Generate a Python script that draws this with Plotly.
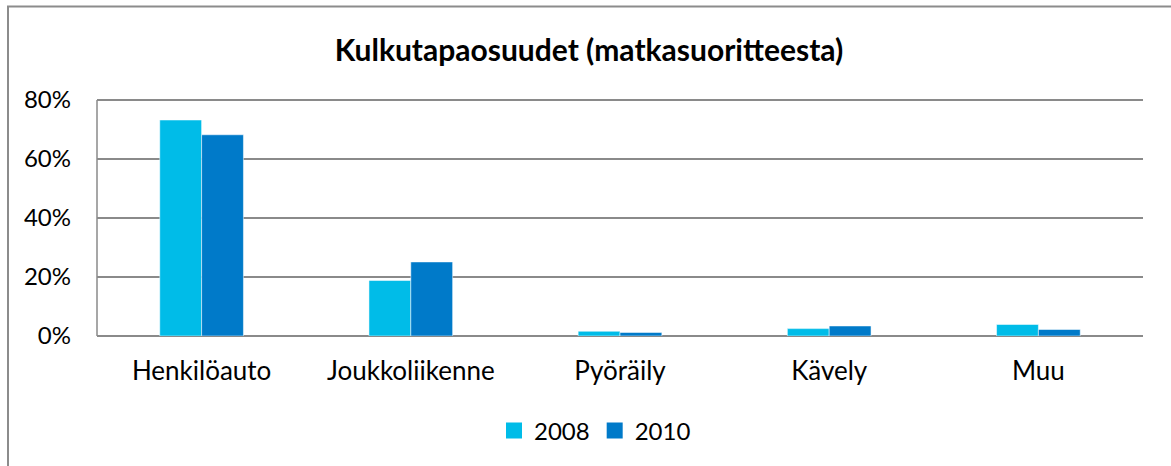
import plotly.graph_objects as go

categories = ["Henkilöauto", "Joukkoliikenne", "Pyöräily", "Kävely", "Muu"]
series_names = ["2008", "2010"]
values_2008 = [0.732, 0.188, 0.016, 0.025, 0.039]
values_2010 = [0.682, 0.251, 0.012, 0.034, 0.022]
y_ticks = [0, 0.2, 0.4, 0.6, 0.8]
y_tick_labels = ["0%", "20%", "40%", "60%", "80%"]

colors = ["#00BCE8", "#007AC9"]
FONT = "Lato"

fig = go.Figure()
for name, vals, col in zip(series_names, [values_2008, values_2010], colors):
    fig.add_trace(go.Bar(
        x=categories, y=vals, name=name, showlegend=False,
        marker=dict(color=col, line=dict(color="rgba(255,255,255,0.5)", width=1)),
    ))
# legend proxies with larger square swatches
for name, col in zip(series_names, colors):
    fig.add_trace(go.Scatter(
        x=[None], y=[None], name=name, mode="markers",
        marker=dict(symbol="square", size=16, color=col),
    ))

W, H = 1171, 466
L, R, T, B = 97, 28, 97, 130
pw, ph = W - L - R, H - T - B

def px_to_paper_x(px):
    return (px - L) / pw

def px_to_paper_y(py):
    return (H - B - py) / ph

fig.update_layout(
    width=W, height=H,
    margin=dict(l=L, r=R, t=T, b=B, autoexpand=False),
    paper_bgcolor="white", plot_bgcolor="white",
    barmode="group", bargap=0.6, bargroupgap=0,
    font=dict(family=FONT, size=24, color="#000000"),
    title=dict(text="<b>Kulkutapaosuudet (matkasuoritteesta)</b>",
               x=px_to_paper_x(589), xref="paper", xanchor="center",
               y=1 - 50 / H, yanchor="middle",
               font=dict(family=FONT, size=30, color="#000000")),
    showlegend=True,
    legend=dict(orientation="h", x=px_to_paper_x(595), xanchor="center",
                y=px_to_paper_y(431), yanchor="middle",
                font=dict(family=FONT, size=24), itemwidth=30,
                traceorder="normal"),
    xaxis=dict(showgrid=False, showline=False, ticks="", ticklabelstandoff=17,
               tickfont=dict(family=FONT, size=26)),
    yaxis=dict(range=[0, 0.81], tickvals=y_ticks, ticktext=y_tick_labels,
               showgrid=True, gridcolor="#8A8A8A", gridwidth=1.5,
               showline=False,
               zeroline=True, zerolinecolor="#8A8A8A", zerolinewidth=1.5,
               ticks="", ticklabelstandoff=25,
               tickfont=dict(family=FONT, size=24)),
    shapes=[
        dict(type="rect", xref="paper", yref="paper",
             x0=px_to_paper_x(8), x1=px_to_paper_x(1200),
             y0=px_to_paper_y(500), y1=px_to_paper_y(6.5),
             line=dict(color="#8C8C8C", width=2), fillcolor="rgba(0,0,0,0)",
             layer="below"),
        # vertical value-axis line from 0% to 80%
        dict(type="line", xref="paper", yref="y", x0=0, x1=0, y0=0, y1=0.8,
             line=dict(color="#8A8A8A", width=1.5), layer="below"),
    ],
)
fig.update_xaxes(range=[-0.5, 4.5])

fig.write_html("out.html", config={"displayModeBar": False},
               post_script="document.body.style.margin='0';")
